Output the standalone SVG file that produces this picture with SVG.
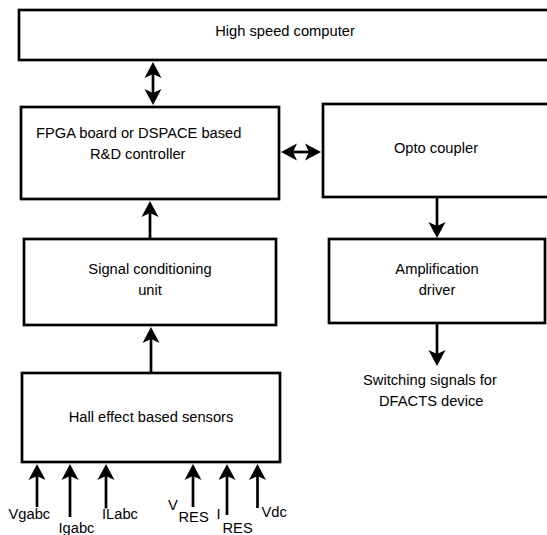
<svg xmlns="http://www.w3.org/2000/svg" width="547" height="535" viewBox="0 0 547 535">
  <defs>
    <marker id="ah" markerUnits="userSpaceOnUse" markerWidth="17" markerHeight="18" viewBox="0 -9 17 18" refX="4" refY="0" orient="auto-start-reverse">
      <path d="M0,-8.5 L16,0 L0,8.5 L4,0 Z" fill="#000"/>
    </marker>
    <style>
      .box { fill: #fff; stroke: #000; stroke-width: 2.7; }
      .wire { fill: none; stroke: #000; stroke-width: 2.7; }
      .one { marker-end: url(#ah); }
      .two { marker-start: url(#ah); marker-end: url(#ah); }
      text { font-family: "Liberation Sans", Arial, Helvetica, sans-serif; font-size: 14.7px; fill: #000; }
      .mid { text-anchor: middle; }
    </style>
  </defs>
  <rect width="547" height="535" fill="#fff"/>

  <g id="computer">
    <rect class="box" x="19" y="10" width="545" height="50"/>
    <text class="mid" x="285" y="36">High speed computer</text>
  </g>
  <g id="controller">
    <rect class="box" x="21" y="107" width="258" height="92"/>
    <text x="36" y="138">FPGA board or DSPACE based</text>
    <text x="90" y="159">R&amp;D controller</text>
  </g>
  <g id="opto">
    <rect class="box" x="323" y="104" width="240" height="93"/>
    <text class="mid" x="436" y="153">Opto coupler</text>
  </g>
  <g id="signal">
    <rect class="box" x="24" y="239" width="252" height="86"/>
    <text class="mid" x="150" y="274">Signal conditioning</text>
    <text class="mid" x="150" y="295">unit</text>
  </g>
  <g id="amplifier">
    <rect class="box" x="329" y="239" width="216" height="84"/>
    <text class="mid" x="437" y="274">Amplification</text>
    <text class="mid" x="437" y="295">driver</text>
  </g>
  <g id="sensors">
    <rect class="box" x="22" y="373" width="258" height="89"/>
    <text class="mid" x="151" y="422">Hall effect based sensors</text>
  </g>
  <g id="output">
    <text x="363" y="385">Switching signals for</text>
    <text x="379" y="406">DFACTS device</text>
  </g>
  <g id="inputs">
    <text x="8.5" y="519">Vgabc</text>
    <text x="58.5" y="533">Igabc</text>
    <text x="102" y="519">ILabc</text>
    <text x="168" y="510">V</text>
    <text x="178.5" y="521.5">RES</text>
    <text x="216.5" y="519">I</text>
    <text x="222.5" y="532.5">RES</text>
    <text x="261.5" y="516.5">Vdc</text>
  </g>

  <g id="connectors">
    <line class="wire two" x1="153" y1="74" x2="153" y2="93"/>
    <line class="wire two" x1="293" y1="152" x2="309" y2="152"/>
    <line class="wire one" x1="150" y1="239" x2="150" y2="213"/>
    <line class="wire one" x1="151" y1="373" x2="151" y2="339"/>
    <line class="wire one" x1="437" y1="197" x2="437" y2="226"/>
    <line class="wire one" x1="437" y1="323" x2="437" y2="354"/>
    <line class="wire one" x1="37" y1="507" x2="37" y2="476"/>
    <line class="wire one" x1="70" y1="517" x2="70" y2="476"/>
    <line class="wire one" x1="106" y1="508.5" x2="106" y2="476"/>
    <line class="wire one" x1="193" y1="507" x2="193" y2="476"/>
    <line class="wire one" x1="227" y1="515" x2="227" y2="476"/>
    <line class="wire one" x1="257.5" y1="508" x2="257.5" y2="476"/>
  </g>
</svg>
